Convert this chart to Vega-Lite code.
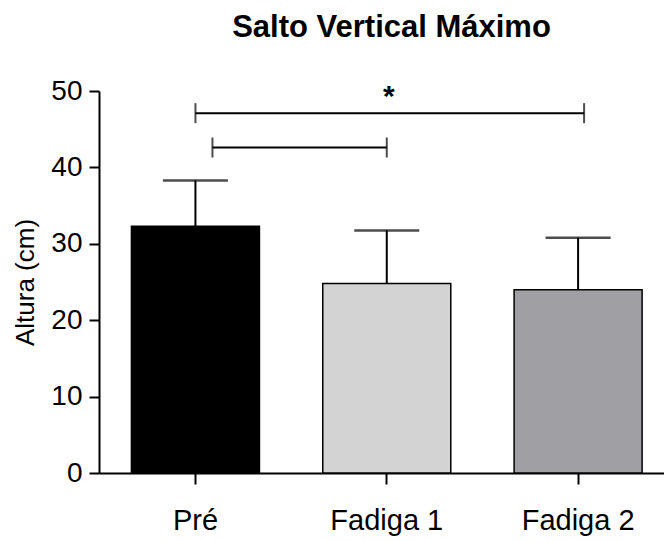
{
  "$schema": "https://vega.github.io/schema/vega-lite/v6.json",
  "autosize": {"type": "none"},
  "width": 565,
  "height": 382,
  "padding": {"left": 99, "top": 91, "right": 0, "bottom": 68},
  "background": "white",
  "title": {
    "text": "Salto Vertical Máximo",
    "font": "Liberation Sans",
    "fontSize": 31,
    "fontWeight": "bold",
    "color": "black",
    "anchor": "middle",
    "offset": 33,
    "dx": 10
  },
  "datasets": {
    "barras": [
      {"grupo": "Pré", "media": 32.3, "superior": 38.3},
      {"grupo": "Fadiga 1", "media": 24.8, "superior": 31.75},
      {"grupo": "Fadiga 2", "media": 24.0, "superior": 30.8}
    ],
    "comparacoes": [
      {"id": "a", "de": "Pré", "ate": "Fadiga 1", "meio": "Fadiga 1", "nivel": 42.6, "rotulo": ""},
      {"id": "b", "de": "Pré", "ate": "Fadiga 2", "meio": "Fadiga 1", "nivel": 47.1, "rotulo": "*"}
    ]
  },
  "config": {
    "view": {"stroke": null},
    "axis": {
      "domainColor": "black",
      "domainWidth": 2,
      "tickColor": "black",
      "tickWidth": 2,
      "labelColor": "black",
      "titleColor": "black",
      "labelFont": "Liberation Sans",
      "titleFont": "Liberation Sans",
      "grid": false
    }
  },
  "layer": [
    {
      "data": {"name": "barras"},
      "mark": {"type": "bar", "stroke": "black", "strokeWidth": 1.5},
      "encoding": {
        "x": {
          "field": "grupo",
          "type": "nominal",
          "scale": {"domain": ["Pré", "Fadiga 1", "Fadiga 2"], "paddingInner": 0.331, "paddingOuter": 0.142, "align": 0.597},
          "axis": {
            "title": null,
            "labelAngle": 0,
            "labelFontSize": 29,
            "labelPadding": 22,
            "tickSize": 11
          }
        },
        "y": {
          "field": "media",
          "type": "quantitative",
          "scale": {"domain": [0, 50], "nice": false},
          "axis": {
            "title": "Altura (cm)",
            "titleFontSize": 26,
            "titleFontWeight": "normal",
            "titlePadding": 12,
            "values": [0, 10, 20, 30, 40, 50],
            "labelFontSize": 28,
            "labelPadding": 7,
            "tickSize": 10
          }
        },
        "color": {
          "field": "grupo",
          "type": "nominal",
          "scale": {"domain": ["Pré", "Fadiga 1", "Fadiga 2"], "range": ["#000000", "#d3d3d3", "#a09fa3"]},
          "legend": null
        }
      }
    },
    {
      "data": {"name": "barras"},
      "mark": {"type": "rule", "color": "black", "strokeWidth": 2},
      "encoding": {
        "x": {"field": "grupo", "type": "nominal", "scale": {"domain": ["Pré", "Fadiga 1", "Fadiga 2"]}},
        "y": {"field": "media", "type": "quantitative"},
        "y2": {"field": "superior"}
      }
    },
    {
      "data": {"name": "barras"},
      "mark": {"type": "tick", "color": "black", "orient": "horizontal", "size": 65, "thickness": 2.5},
      "encoding": {
        "x": {"field": "grupo", "type": "nominal", "scale": {"domain": ["Pré", "Fadiga 1", "Fadiga 2"]}},
        "y": {"field": "superior", "type": "quantitative"}
      }
    },
    {
      "data": {"name": "comparacoes"},
      "transform": [{"filter": "datum.id == 'a'"}],
      "mark": {"type": "rule", "color": "black", "strokeWidth": 2, "xOffset": 17},
      "encoding": {
        "x": {"field": "de", "type": "nominal", "scale": {"domain": ["Pré", "Fadiga 1", "Fadiga 2"]}},
        "x2": {"field": "ate"},
        "y": {"field": "nivel", "type": "quantitative"}
      }
    },
    {
      "data": {"name": "comparacoes"},
      "transform": [{"filter": "datum.id == 'b'"}],
      "mark": {"type": "rule", "color": "black", "strokeWidth": 2, "x2Offset": 6},
      "encoding": {
        "x": {"field": "de", "type": "nominal", "scale": {"domain": ["Pré", "Fadiga 1", "Fadiga 2"]}},
        "x2": {"field": "ate"},
        "y": {"field": "nivel", "type": "quantitative"}
      }
    },
    {
      "data": {"name": "comparacoes"},
      "transform": [{"filter": "datum.id == 'a'"}],
      "mark": {"type": "tick", "color": "black", "orient": "vertical", "size": 20, "thickness": 2, "xOffset": 17},
      "encoding": {
        "x": {"field": "de", "type": "nominal", "scale": {"domain": ["Pré", "Fadiga 1", "Fadiga 2"]}},
        "y": {"field": "nivel", "type": "quantitative"}
      }
    },
    {
      "data": {"name": "comparacoes"},
      "transform": [{"filter": "datum.id == 'a'"}],
      "mark": {"type": "tick", "color": "black", "orient": "vertical", "size": 20, "thickness": 2},
      "encoding": {
        "x": {"field": "ate", "type": "nominal", "scale": {"domain": ["Pré", "Fadiga 1", "Fadiga 2"]}},
        "y": {"field": "nivel", "type": "quantitative"}
      }
    },
    {
      "data": {"name": "comparacoes"},
      "transform": [{"filter": "datum.id == 'b'"}],
      "mark": {"type": "tick", "color": "black", "orient": "vertical", "size": 20, "thickness": 2},
      "encoding": {
        "x": {"field": "de", "type": "nominal", "scale": {"domain": ["Pré", "Fadiga 1", "Fadiga 2"]}},
        "y": {"field": "nivel", "type": "quantitative"}
      }
    },
    {
      "data": {"name": "comparacoes"},
      "transform": [{"filter": "datum.id == 'b'"}],
      "mark": {"type": "tick", "color": "black", "orient": "vertical", "size": 20, "thickness": 2, "xOffset": 6},
      "encoding": {
        "x": {"field": "ate", "type": "nominal", "scale": {"domain": ["Pré", "Fadiga 1", "Fadiga 2"]}},
        "y": {"field": "nivel", "type": "quantitative"}
      }
    },
    {
      "data": {"name": "comparacoes"},
      "transform": [{"filter": "datum.id == 'b'"}],
      "mark": {"type": "text", "color": "black", "font": "Liberation Sans", "fontSize": 30, "fontWeight": "bold", "baseline": "alphabetic", "dy": -7, "dx": 2},
      "encoding": {
        "x": {"field": "meio", "type": "nominal", "scale": {"domain": ["Pré", "Fadiga 1", "Fadiga 2"]}},
        "y": {"field": "nivel", "type": "quantitative"},
        "text": {"field": "rotulo"}
      }
    }
  ]
}
